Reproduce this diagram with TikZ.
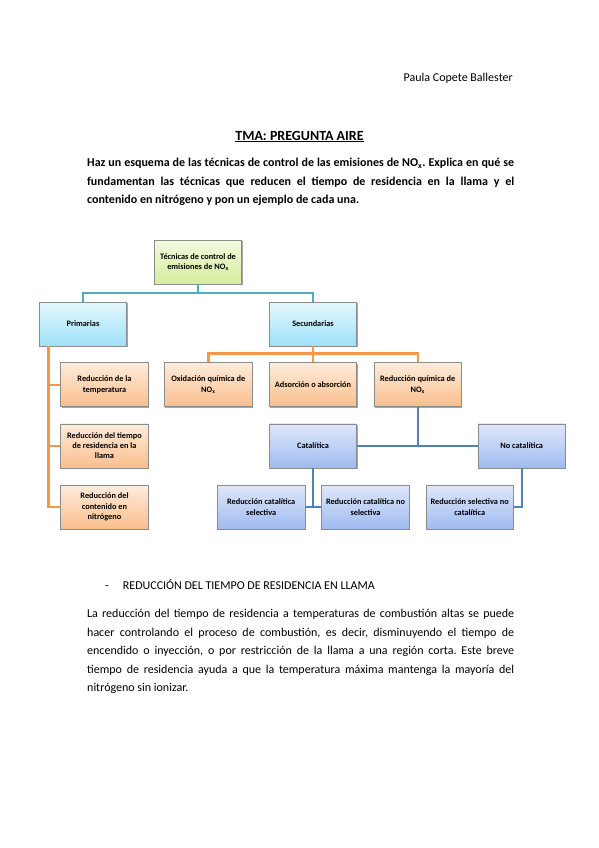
\documentclass[tikz,border=0pt]{standalone}
\usepackage{fontspec}
\setmainfont{Carlito}
\usepackage{xcolor}
\usetikzlibrary{shadows, math}
\definecolor{myteal}{RGB}{75,172,198}
\definecolor{myorange}{RGB}{247,150,70}
\definecolor{myblue}{RGB}{79,129,189}
\definecolor{mygray}{RGB}{140,140,140}
\definecolor{verdeA}{RGB}{243,250,224}
\definecolor{verdeB}{RGB}{212,237,156}
\definecolor{cianA}{RGB}{228,247,253}
\definecolor{cianB}{RGB}{158,225,248}
\definecolor{naranjaA}{RGB}{253,236,220}
\definecolor{naranjaB}{RGB}{250,190,140}
\definecolor{azulA}{RGB}{222,231,250}
\definecolor{azulB}{RGB}{160,187,240}

\tikzset{
  box/.style={draw=mygray, line width=0.6pt, minimum width=87.5pt, minimum height=44pt,
    inner sep=1pt, align=center, font=\fontsize{8.3}{10.3}\selectfont\bfseries,
    drop shadow={shadow xshift=0.8pt, shadow yshift=-1pt, opacity=0.35, fill=black}},
  verde/.style={box, top color=verdeA, bottom color=verdeB},
  cian/.style={box, top color=cianA, bottom color=cianB},
  naranja/.style={box, top color=naranjaA, bottom color=naranjaB},
  azul/.style={box, top color=azulA, bottom color=azulB},
  linea/.style={line width=2.4pt},
  parr/.style={anchor=north west, inner sep=0pt, text width=427pt, align=justify},
}

\begin{document}
\frenchspacing
\begin{tikzpicture}[x=1pt, y=-1pt]
\tikzmath{
\yA=262;
\yB=324;
\yC=384.7;
\yD=445.8;
\yE=507;
}
\fill[white] (0,0) rectangle (599,848);
\useasboundingbox (0,0) rectangle (599,848);

%%%%%%%%%% texto
\node[anchor=base east, inner sep=0pt, font=\fontsize{12}{14}\selectfont] (autor) at (513,82) {Paula Copete Ballester};
\node[anchor=base, inner sep=0pt, font=\fontsize{14}{16}\selectfont\bfseries] (titulo) at (299.5,140) {\underline{TMA: PREGUNTA AIRE}};
\node[parr, font=\fontsize{12}{18.5}\selectfont\bfseries] (enunciado) at (87,158) {Haz un esquema de las técnicas de control de las emisiones de NO\textsubscript{x}. Explica en qué se\linebreak
fundamentan las técnicas que reducen el tiempo de residencia en la llama y el\linebreak
contenido en nitrógeno y pon un ejemplo de cada una.};

%%%%%%%%%% esquema
\node[verde] (tecnicas) at (198,\yA) {Técnicas de control de\\emisiones de NO\textsubscript{x}};
\node[cian] (primarias) at (83,\yB) {Primarias};
\node[cian] (secundarias) at (313,\yB) {Secundarias};

\node[naranja] (temp) at (104.5,\yC) {Reducción de la\\temperatura};
\node[naranja] (tiempo) at (104.5,\yD) {Reducción del tiempo\\de residencia en la\\llama};
\node[naranja] (nitro) at (104.5,\yE) {Reducción del\\contenido en\\nitrógeno};

\node[naranja] (oxid) at (208.3,\yC) {Oxidación química de\\NO\textsubscript{x}};
\node[naranja] (adsor) at (313,\yC) {Adsorción o absorción};
\node[naranja] (redq) at (417.7,\yC) {Reducción química de\\NO\textsubscript{x}};

\node[azul] (cat) at (313,\yD) {Catalítica};
\node[azul] (nocat) at (521.7,\yD) {No catalítica};
\node[azul] (rcs) at (261.2,\yE) {Reducción catalítica\\selectiva};
\node[azul] (rcns) at (365.5,\yE) {Reducción catalítica no\\selectiva};
\node[azul] (rsnc) at (469.7,\yE) {Reducción selectiva no\\catalítica};

% conectores
\draw[linea, myteal] (tecnicas.south) -- ++(0,8.5) -| (primarias.north);
\draw[linea, myteal] (tecnicas.south) -- ++(0,8.5) -| (secundarias.north);

\coordinate (bus) at (48.5,346);
\foreach \n in {temp,tiempo,nitro}
  \draw[linea, myorange] (bus) |- (\n.west);
\foreach \n in {oxid,adsor,redq}
  \draw[linea, myorange] (secundarias.south) -- ++(0,7.2) -| (\n.north);

\draw[linea, myblue] (redq.south) -- (redq.south |- cat.east);
\draw[linea, myblue] (cat.east) -- (nocat.west);
\draw[linea, myblue] (cat.south) -- (cat.south |- rcs.east);
\draw[linea, myblue] (rcs.east) -- (rcns.west);
\draw[linea, myblue] (nocat.south) |- (rsnc.east);

%%%%%%%%%% apartado
\node[anchor=base west, inner sep=0pt, font=\fontsize{12}{14}\selectfont] (guion) at (105,589) {-};
\node[anchor=base west, inner sep=0pt, font=\fontsize{12}{14}\selectfont] (apartado) at (122.7,589) {REDUCCIÓN DEL TIEMPO DE RESIDENCIA EN LLAMA};
\node[parr, font=\fontsize{12}{18.5}\selectfont] (texto) at (87,609) {La reducción del tiempo de residencia a temperaturas de combustión altas se puede\linebreak
hacer controlando el proceso de combustión, es decir, disminuyendo el tiempo de\linebreak
encendido o inyección, o por restricción de la llama a una región corta. Este breve\linebreak
tiempo de residencia ayuda a que la temperatura máxima mantenga la mayoría del\linebreak
nitrógeno sin ionizar.};
\end{tikzpicture}
\end{document}
